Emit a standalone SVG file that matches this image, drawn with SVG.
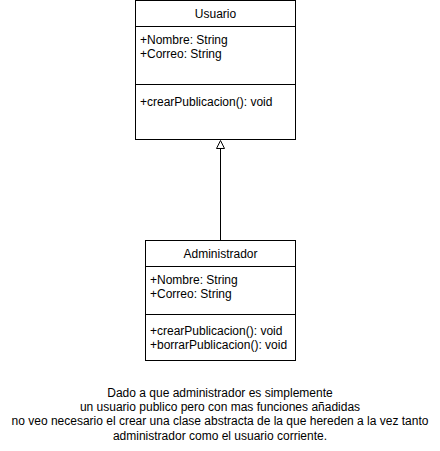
<svg xmlns="http://www.w3.org/2000/svg" width="440" height="451" viewBox="0 0 440 451">
<style>
.box{fill:#fff;stroke:#000;stroke-width:1}
.t{font-family:"Liberation Sans",Arial,sans-serif;font-size:12px;fill:#000}
.c{text-anchor:middle}
</style>
<defs>
<marker id="inh" markerWidth="12" markerHeight="12" refX="0" refY="6" orient="auto" markerUnits="userSpaceOnUse">
<path d="M8,6 L0,2 L0,10 Z" fill="#fff" stroke="#000" stroke-width="1"/>
</marker>
</defs>
<rect width="440" height="451" fill="#fff"/>
<g id="connectors">
<line x1="220.5" y1="240.5" x2="220.5" y2="148.5" stroke="#000" stroke-width="1" marker-end="url(#inh)"/>
</g>
<g id="usuario">
<rect class="box" x="135.5" y="0.5" width="160" height="139"/>
<line x1="135.5" y1="26.5" x2="295.5" y2="26.5" stroke="#000"/>
<line x1="135.5" y1="84.5" x2="295.5" y2="84.5" stroke="#000"/>
<text class="t c" x="215.5" y="18">Usuario</text>
<text class="t" x="140" y="44">+Nombre: String</text>
<text class="t" x="140" y="58">+Correo: String</text>
<text class="t" x="140" y="106">+crearPublicacion(): void</text>
</g>
<g id="administrador">
<rect class="box" x="145.5" y="240.5" width="150" height="120"/>
<line x1="145.5" y1="266.5" x2="295.5" y2="266.5" stroke="#000"/>
<line x1="145.5" y1="314.5" x2="295.5" y2="314.5" stroke="#000"/>
<text class="t c" x="220.5" y="258">Administrador</text>
<text class="t" x="150" y="284">+Nombre: String</text>
<text class="t" x="150" y="298">+Correo: String</text>
<text class="t" x="150" y="335">+crearPublicacion(): void</text>
<text class="t" x="150" y="349">+borrarPublicacion(): void</text>
</g>
<g id="note">
<text class="t c" x="220" y="397">Dado a que administrador es simplemente</text>
<text class="t c" x="220" y="411">un usuario publico pero con mas funciones añadidas</text>
<text class="t c" x="220" y="425">no veo necesario el crear una clase abstracta de la que hereden a la vez tanto</text>
<text class="t c" x="220" y="440">administrador como el usuario corriente.</text>
</g>
</svg>
